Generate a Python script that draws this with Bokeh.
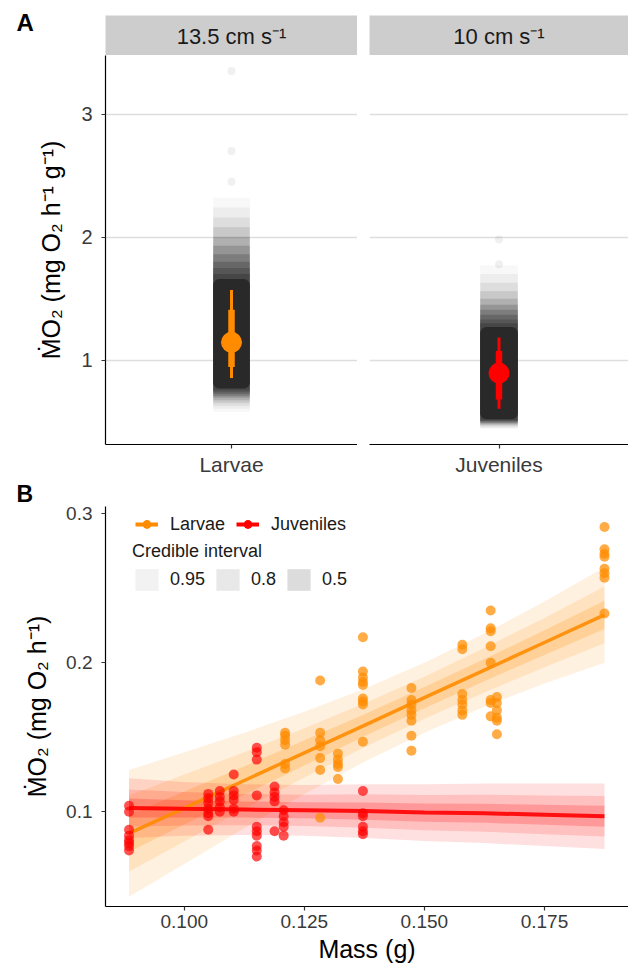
from bokeh.plotting import figure
from bokeh.layouts import column, row
from bokeh.models import (Range1d, FixedTicker, Legend, LegendItem,
                          NumeralTickFormatter)
from bokeh.embed import file_html
from bokeh.resources import INLINE
from bokeh.core.properties import value

FONT = "Liberation Sans"

# ---------------- data ----------------
panel_letters = ["A", "B"]
groups = ["Larvae", "Juveniles"]
speeds = ["13.5 cm s\u207b\u00b9", "10 cm s\u207b\u00b9"]
group_colors = ["#FF8C00", "#FF0000"]

# Panel A: posterior draw cloud extents (nested layers, dense core -> faint tail)
larvae_cloud_lo = [0.77, 0.755, 0.74, 0.725, 0.71, 0.695, 0.675, 0.655, 0.63, 0.605, 0.58]
larvae_cloud_hi = [1.66, 1.70, 1.75, 1.80, 1.86, 1.93, 2.00, 2.08, 2.16, 2.24, 2.32]
juveniles_cloud_lo = [0.52, 0.513, 0.506, 0.499, 0.492, 0.485, 0.477, 0.469, 0.46, 0.45, 0.44]
juveniles_cloud_hi = [1.27, 1.30, 1.33, 1.37, 1.41, 1.45, 1.50, 1.56, 1.63, 1.70, 1.77]
larvae_cloud_outliers = [2.45, 2.70, 3.35]
juveniles_cloud_outliers = [1.78, 1.98]
# point intervals (median, 66 % and 95 %)
pi_median = [1.145, 0.895]
pi_lo66 = [0.945, 0.68]
pi_hi66 = [1.41, 1.075]
pi_lo95 = [0.855, 0.605]
pi_hi95 = [1.57, 1.185]
a_ticks = [1, 2, 3]

# Panel B: observations
larvae_mass = [0.121, 0.121, 0.121, 0.121, 0.121, 0.121,
               0.1283, 0.1283, 0.1283, 0.1283, 0.1283, 0.1283, 0.1283,
               0.132, 0.132, 0.132, 0.132, 0.132,
               0.1372, 0.1372, 0.1372, 0.1372, 0.1372, 0.1372, 0.1372, 0.1372, 0.1372,
               0.1473, 0.1473, 0.1473, 0.1473, 0.1473, 0.1473, 0.1473, 0.1473,
               0.1579, 0.1579, 0.1579, 0.1579, 0.1579, 0.1579, 0.1579,
               0.1638, 0.1638, 0.1638, 0.1638, 0.1638, 0.1638, 0.1638, 0.1638,
               0.1651, 0.1651, 0.1651, 0.1651, 0.1651, 0.1651,
               0.1875, 0.1875, 0.1875, 0.1875, 0.1875, 0.1875, 0.1875, 0.1875]
larvae_mo2 = [0.153, 0.151, 0.148, 0.145, 0.132, 0.129,
              0.188, 0.153, 0.148, 0.144, 0.136, 0.128, 0.096,
              0.139, 0.135, 0.132, 0.130, 0.122,
              0.217, 0.194, 0.190, 0.187, 0.185, 0.176, 0.174, 0.172, 0.147,
              0.183, 0.175, 0.172, 0.168, 0.165, 0.161, 0.151, 0.141,
              0.212, 0.209, 0.179, 0.175, 0.172, 0.168, 0.165,
              0.235, 0.223, 0.221, 0.211, 0.200, 0.175, 0.173, 0.164,
              0.177, 0.173, 0.168, 0.163, 0.161, 0.152,
              0.291, 0.276, 0.273, 0.271, 0.263, 0.260, 0.257, 0.233]
juveniles_mass = [0.0885, 0.0885, 0.0885, 0.0885, 0.0885, 0.0885, 0.0885, 0.0885,
                  0.105, 0.105, 0.105, 0.105, 0.105, 0.105, 0.105,
                  0.1074, 0.1074, 0.1074, 0.1074, 0.1074,
                  0.1103, 0.1103, 0.1103, 0.1103, 0.1103, 0.1103,
                  0.1151, 0.1151, 0.1151, 0.1151, 0.1151, 0.1151, 0.1151, 0.1151, 0.1151, 0.1151,
                  0.1188, 0.1188, 0.1188, 0.1188, 0.1188,
                  0.1207, 0.1207, 0.1207, 0.1207, 0.1207,
                  0.1372, 0.1372, 0.1372, 0.1372, 0.1372, 0.1372]
juveniles_mo2 = [0.104, 0.100, 0.088, 0.084, 0.081, 0.079, 0.077, 0.074,
                 0.112, 0.109, 0.106, 0.102, 0.099, 0.097, 0.088,
                 0.114, 0.110, 0.107, 0.103, 0.100,
                 0.125, 0.114, 0.111, 0.108, 0.102, 0.100,
                 0.143, 0.140, 0.135, 0.111, 0.090, 0.087, 0.084, 0.077, 0.074, 0.070,
                 0.117, 0.113, 0.110, 0.107, 0.087,
                 0.101, 0.097, 0.093, 0.090, 0.084,
                 0.114, 0.099, 0.097, 0.090, 0.087, 0.085]

# Panel B: fitted lines and credible ribbons
fit_mass = [0.0885, 0.1, 0.1125, 0.125, 0.1375, 0.15, 0.1625, 0.175, 0.1875]
larvae_fit = [0.0855, 0.1025, 0.121, 0.1395, 0.158, 0.1765, 0.195, 0.2135, 0.232]
larvae_lo95 = [0.043, 0.065, 0.089, 0.112, 0.1335, 0.153, 0.1705, 0.186, 0.200]
larvae_hi95 = [0.128, 0.140, 0.153, 0.167, 0.1825, 0.200, 0.2195, 0.241, 0.264]
larvae_lo80 = [0.060, 0.080, 0.102, 0.123, 0.1433, 0.1624, 0.180, 0.197, 0.213]
larvae_hi80 = [0.111, 0.125, 0.140, 0.156, 0.1727, 0.1906, 0.210, 0.230, 0.251]
larvae_lo50 = [0.073, 0.0914, 0.1115, 0.131, 0.1506, 0.1694, 0.1876, 0.2052, 0.2225]
larvae_hi50 = [0.098, 0.1136, 0.1305, 0.148, 0.1654, 0.1836, 0.2024, 0.2218, 0.2415]
juveniles_fit = [0.1025, 0.102, 0.1015, 0.101, 0.1005, 0.0995, 0.099, 0.098, 0.097]
juveniles_lo95 = [0.0825, 0.084, 0.0845, 0.084, 0.0825, 0.0805, 0.079, 0.077, 0.075]
juveniles_hi95 = [0.1225, 0.120, 0.1185, 0.118, 0.1185, 0.1185, 0.119, 0.119, 0.119]
juveniles_lo80 = [0.0901, 0.0908, 0.091, 0.0905, 0.0893, 0.0877, 0.0866, 0.085, 0.0834]
juveniles_hi80 = [0.1149, 0.1132, 0.112, 0.1115, 0.1117, 0.1113, 0.1114, 0.111, 0.1106]
juveniles_lo50 = [0.0961, 0.0962, 0.0961, 0.0956, 0.0947, 0.0934, 0.0926, 0.0913, 0.09]
juveniles_hi50 = [0.1089, 0.1078, 0.1069, 0.1064, 0.1063, 0.1056, 0.1054, 0.1047, 0.104]
ci_levels = ["0.95", "0.8", "0.5"]
b_xticks = [0.1, 0.125, 0.15, 0.175]
b_yticks = [0.1, 0.2, 0.3]

# ---------------- styling ----------------
CLOUD = "#2d2d2d"
cloud_alpha = [1.0, 0.35, 0.3, 0.25, 0.22, 0.2, 0.15, 0.12, 0.08, 0.05, 0.03]
ribbon_alpha = [0.12, 0.14, 0.2]
key_fill = ["#f2f2f2", "#e8e8e8", "#dcdcdc"]
TICK_COL = "#3a3a3a"
W_TOTAL = 628


def style_axes(p, tick_size, title_standoff):
    for ax in p.axis:
        ax.axis_line_color = "black"
        ax.axis_line_width = 1.2
        ax.major_tick_line_color = "#333333"
        ax.major_tick_line_width = 1.2
        ax.major_tick_out = 4
        ax.major_tick_in = 0
        ax.minor_tick_line_color = None
        ax.major_label_text_font = FONT
        ax.major_label_text_font_size = tick_size
        ax.major_label_text_color = TICK_COL
        ax.axis_label_text_font = FONT
        ax.axis_label_text_font_size = "25px"
        ax.axis_label_text_font_style = "normal"
        ax.axis_label_text_color = "black"
    p.xaxis.major_label_standoff = 4
    p.xaxis.axis_label_standoff = 4
    p.yaxis.major_label_standoff = 9
    p.yaxis.axis_label_standoff = title_standoff
    p.outline_line_color = None


def facet_strip(width, x0, x1, quad_left, text, center, letter=None):
    s = figure(width=width, height=55, x_range=Range1d(x0, x1), y_range=Range1d(55, 0),
               output_backend="svg", toolbar_location=None, frame_align=False,
               min_border_left=0, min_border_right=0, min_border_top=0, min_border_bottom=0)
    s.axis.visible = False
    s.grid.visible = False
    s.outline_line_color = None
    s.quad(left=[quad_left], right=[x1], top=[15], bottom=[55],
           fill_color="#cdcdcd", line_color=None)
    s.text(x=[center], y=[36], text=[text], text_align="center", text_baseline="middle",
           text_font=value(FONT), text_font_size="22px", text_color="#1a1a1a")
    if letter:
        s.text(x=[16], y=[22], text=[letter], text_align="left", text_baseline="middle",
               text_font=value(FONT), text_font_size="24px", text_font_style="bold",
               text_color="black")
    return s


a_yrange = Range1d(0.315, 3.476)


def panel_a(width, left_border, idx, cloud_lo, cloud_hi, outliers, show_y):
    p = figure(width=width, height=423, x_range=Range1d(0.4, 1.6), y_range=a_yrange,
               output_backend="svg", toolbar_location=None,
               min_border_left=left_border, min_border_right=0,
               min_border_top=0, min_border_bottom=31)
    style_axes(p, "20px", 13)
    p.xaxis.major_label_text_font_size = "21px"
    p.xaxis.ticker = FixedTicker(ticks=[1])
    p.xaxis.major_label_overrides = {1: groups[idx]}
    p.yaxis.ticker = FixedTicker(ticks=a_ticks)
    p.xgrid.visible = False
    p.ygrid.ticker = FixedTicker(ticks=a_ticks)
    p.ygrid.grid_line_color = "#dedede"
    p.ygrid.grid_line_width = 1.5
    if show_y:
        p.yaxis.axis_label = "\u1e40O\u2082 (mg O\u2082 h\u207b\u00b9 g\u207b\u00b9)"
    else:
        p.yaxis.visible = False
    n = len(cloud_lo)
    p.vbar(x=[1], width=0.174, bottom=[cloud_lo[0]], top=[cloud_hi[0]],
           fill_color=CLOUD, line_color=None, border_radius=6)
    p.vbar(x=[1] * (n - 1), width=0.174, bottom=cloud_lo[1:], top=cloud_hi[1:],
           fill_color=CLOUD, fill_alpha=cloud_alpha[1:], line_color=None)
    p.scatter(x=[1] * len(outliers), y=outliers, size=8, fill_color=CLOUD,
              fill_alpha=0.07, line_color=None)
    col = group_colors[idx]
    p.segment(x0=[1], y0=[pi_lo95[idx]], x1=[1], y1=[pi_hi95[idx]],
              line_color=col, line_width=3)
    p.segment(x0=[1], y0=[pi_lo66[idx]], x1=[1], y1=[pi_hi66[idx]],
              line_color=col, line_width=6.5)
    p.scatter(x=[1], y=[pi_median[idx]], size=21, fill_color=col, line_color=None)
    return p


w1 = 357
w2 = W_TOTAL - w1
s1 = facet_strip(w1, 0, w1, 105, speeds[0], 231, letter=panel_letters[0])
s2 = facet_strip(w2, w1, W_TOTAL, 369, speeds[1], (369 + W_TOTAL) / 2)
a1 = panel_a(w1, 105, 0, larvae_cloud_lo, larvae_cloud_hi, larvae_cloud_outliers, True)
a2 = panel_a(w2, 12, 1, juveniles_cloud_lo, juveniles_cloud_hi, juveniles_cloud_outliers, False)

# ---------------- panel B ----------------
b = figure(width=W_TOTAL, height=488, x_range=Range1d(0.0836, 0.1925),
           y_range=Range1d(0.0365, 0.3047), output_backend="svg", toolbar_location=None,
           min_border_left=105, min_border_right=0, min_border_top=26, min_border_bottom=60)
b.title.text = panel_letters[1]
b.title.align = "left"
b.title.offset = -89
b.title.standoff = 0
b.title.text_font = FONT
b.title.text_font_size = "23px"
b.title.text_font_style = "bold"
b.title.text_color = "black"
style_axes(b, "19px", 12)
b.grid.visible = False
b.xaxis.ticker = FixedTicker(ticks=b_xticks)
b.xaxis.formatter = NumeralTickFormatter(format="0.000")
b.yaxis.ticker = FixedTicker(ticks=b_yticks)
b.yaxis.formatter = NumeralTickFormatter(format="0.0")
b.xaxis.axis_label = "Mass (g)"
b.yaxis.axis_label = "\u1e40O\u2082 (mg O\u2082 h\u207b\u00b9)"

bands = [
    (group_colors[0], [(larvae_lo95, larvae_hi95), (larvae_lo80, larvae_hi80), (larvae_lo50, larvae_hi50)]),
    (group_colors[1], [(juveniles_lo95, juveniles_hi95), (juveniles_lo80, juveniles_hi80), (juveniles_lo50, juveniles_hi50)]),
]
for col, levels in bands:
    for (lo, hi), a in zip(levels, ribbon_alpha):
        b.varea(x=fit_mass, y1=lo, y2=hi, fill_color=col, fill_alpha=a)

b.line(x=fit_mass, y=larvae_fit, line_color=group_colors[0], line_width=3.5, line_alpha=0.9)
b.line(x=fit_mass, y=juveniles_fit, line_color=group_colors[1], line_width=4, line_alpha=0.9)
b.scatter(x=larvae_mass, y=larvae_mo2, size=10, fill_color=group_colors[0], fill_alpha=0.72,
          line_color=None)
b.scatter(x=juveniles_mass, y=juveniles_mo2, size=10, fill_color=group_colors[1], fill_alpha=0.68,
          line_color=None)

# legend key renderers (hidden in the plot, only drawn in the legend)
series_x = [larvae_mass, juveniles_mass]
series_y = [larvae_mo2, juveniles_mo2]
series_fit = [larvae_fit, juveniles_fit]
key_items = []
for g, col, xs, ys, fy in zip(groups, group_colors, series_x, series_y, series_fit):
    kl = b.line(x=fit_mass, y=fy, line_color=col, line_width=4, visible=False)
    kd = b.scatter(x=xs, y=ys, fill_color=col, line_color=None, visible=False)
    key_items.append(LegendItem(label=g, renderers=[kl, kd]))
ci_items = []
for lev, fc in zip(ci_levels, key_fill):
    kq = b.varea(x=fit_mass, y1=larvae_lo95, y2=larvae_hi95, fill_color=fc, visible=False)
    ci_items.append(LegendItem(label=lev, renderers=[kq]))

common = dict(orientation="horizontal", padding=0, margin=0, border_line_color=None,
              background_fill_alpha=0, label_text_font=FONT, label_text_font_size="18px",
              label_text_color="#1a1a1a", inactive_fill_alpha=0)
leg1 = Legend(items=key_items, location=(30, 371), glyph_width=23, glyph_height=22,
              label_standoff=12, spacing=11, **common)
leg2 = Legend(items=ci_items, location=(27, 313), glyph_width=29, glyph_height=27,
              label_standoff=9, spacing=8, title="Credible interval", title_standoff=4,
              title_text_font=FONT, title_text_font_size="18px", title_text_font_style="normal",
              title_text_color="#1a1a1a", **common)
b.add_layout(leg1)
b.add_layout(leg2)

layout = column(row(column(s1, a1), column(s2, a2)), b)
open("out.html", "w").write(file_html(layout, INLINE))
